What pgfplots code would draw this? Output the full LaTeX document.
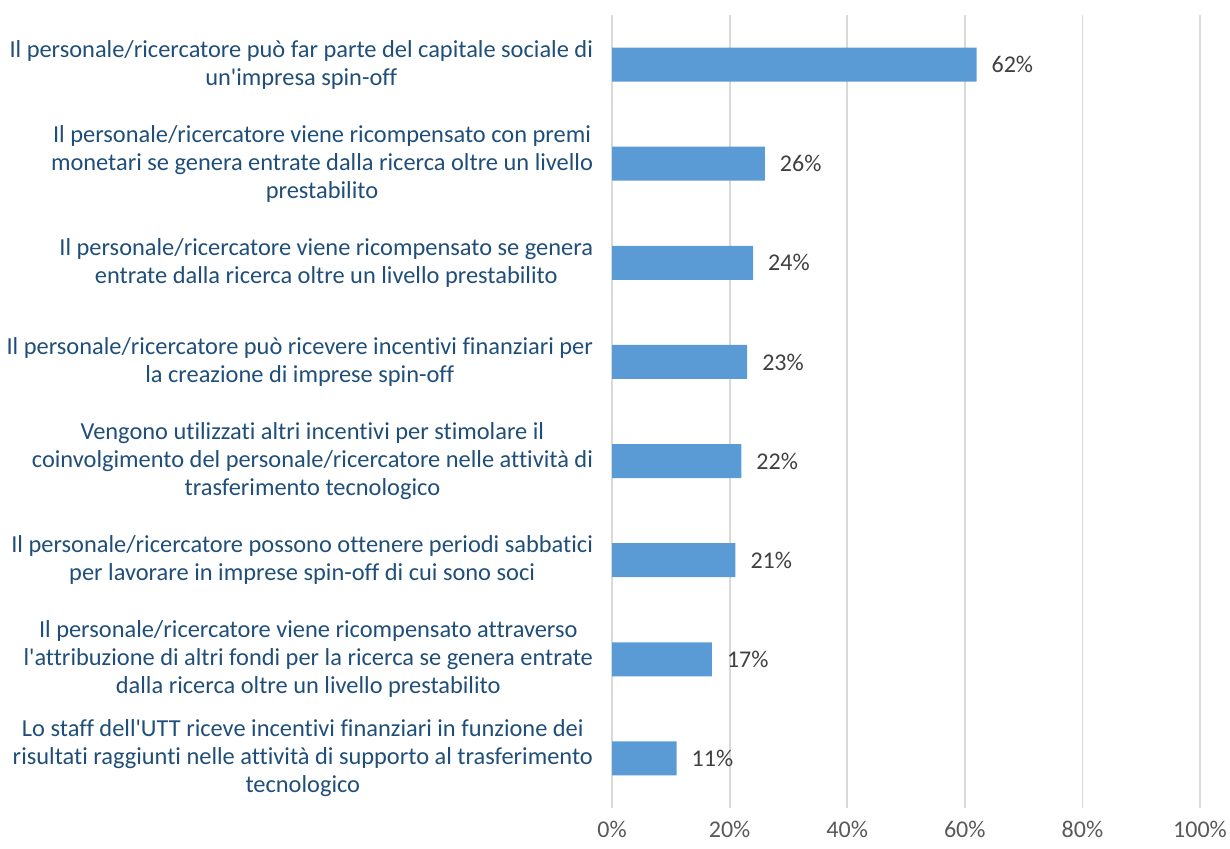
\documentclass[border=0pt]{standalone}
\usepackage{pgfplots}
\pgfplotsset{compat=1.18}
\usepackage{fontspec}
\setmainfont{Carlito}[Ligatures={NoCommon,TeXOff}]
\definecolor{barblue}{HTML}{5B9BD5}
\definecolor{labblue}{HTML}{1F4E79}
\definecolor{gridgray}{HTML}{D9D9D9}
\definecolor{tickgray}{HTML}{595959}
\definecolor{valgray}{HTML}{404040}
\begin{document}
\begin{tikzpicture}
\path[use as bounding box] (0,0) rectangle (615pt,424.5pt);
\begin{axis}[
  at={(306pt,20.5pt)}, anchor=south west,
  scale only axis, width=294pt, height=396.5pt,
  xbar, bar width=17pt,
  xmin=0, xmax=100, ymin=0.5, ymax=8.5, y dir=reverse,
  xtick={0,20,...,100},
  xticklabel={\pgfmathprintnumber{\tick}\%},
  /pgf/number format/assume math mode=true,
  xticklabel style={font=\fontsize{12}{14}\selectfont, text=tickgray, yshift=-5.5pt, inner sep=1pt},
  ytick={1,...,8},
  yticklabels={
    {Il personale/ricercatore può far parte del capitale sociale di\\un'impresa spin-off},
    {Il personale/ricercatore viene ricompensato con premi\\monetari se genera entrate dalla ricerca oltre un livello\\prestabilito},
    {Il personale/ricercatore viene ricompensato se genera\\entrate dalla ricerca oltre un livello prestabilito},
    {Il personale/ricercatore può ricevere incentivi finanziari per\\la creazione di imprese spin-off},
    {Vengono utilizzati altri incentivi per stimolare il\\coinvolgimento del personale/ricercatore nelle attività di\\trasferimento tecnologico},
    {Il personale/ricercatore possono ottenere periodi sabbatici\\per lavorare in imprese spin-off di cui sono soci},
    {Il personale/ricercatore viene ricompensato attraverso\\l'attribuzione di altri fondi per la ricerca se genera entrate\\dalla ricerca oltre un livello prestabilito},
    {Lo staff dell'UTT riceve incentivi finanziari in funzione dei\\risultati raggiunti nelle attività di supporto al trasferimento\\tecnologico}
  },
  yticklabel style={align=center, font=\fontsize{12.2}{14}\selectfont, text=labblue, xshift=-6pt},
  axis line style={draw=none},
  major tick length=0pt,
  xmajorgrids, grid style={gridgray, line width=0.9pt},
  nodes near coords={\pgfmathprintnumber{\pgfplotspointmeta}\%},
  point meta=x,
  nodes near coords style={anchor=west, font=\fontsize{12}{14}\selectfont, text=valgray, xshift=4pt},
  clip=false,
]
\addplot[fill=barblue, draw=none] coordinates {
  (62,1) (26,2) (24,3) (23,4) (22,5) (21,6) (17,7) (11,8)
};
\end{axis}
\end{tikzpicture}
\end{document}
